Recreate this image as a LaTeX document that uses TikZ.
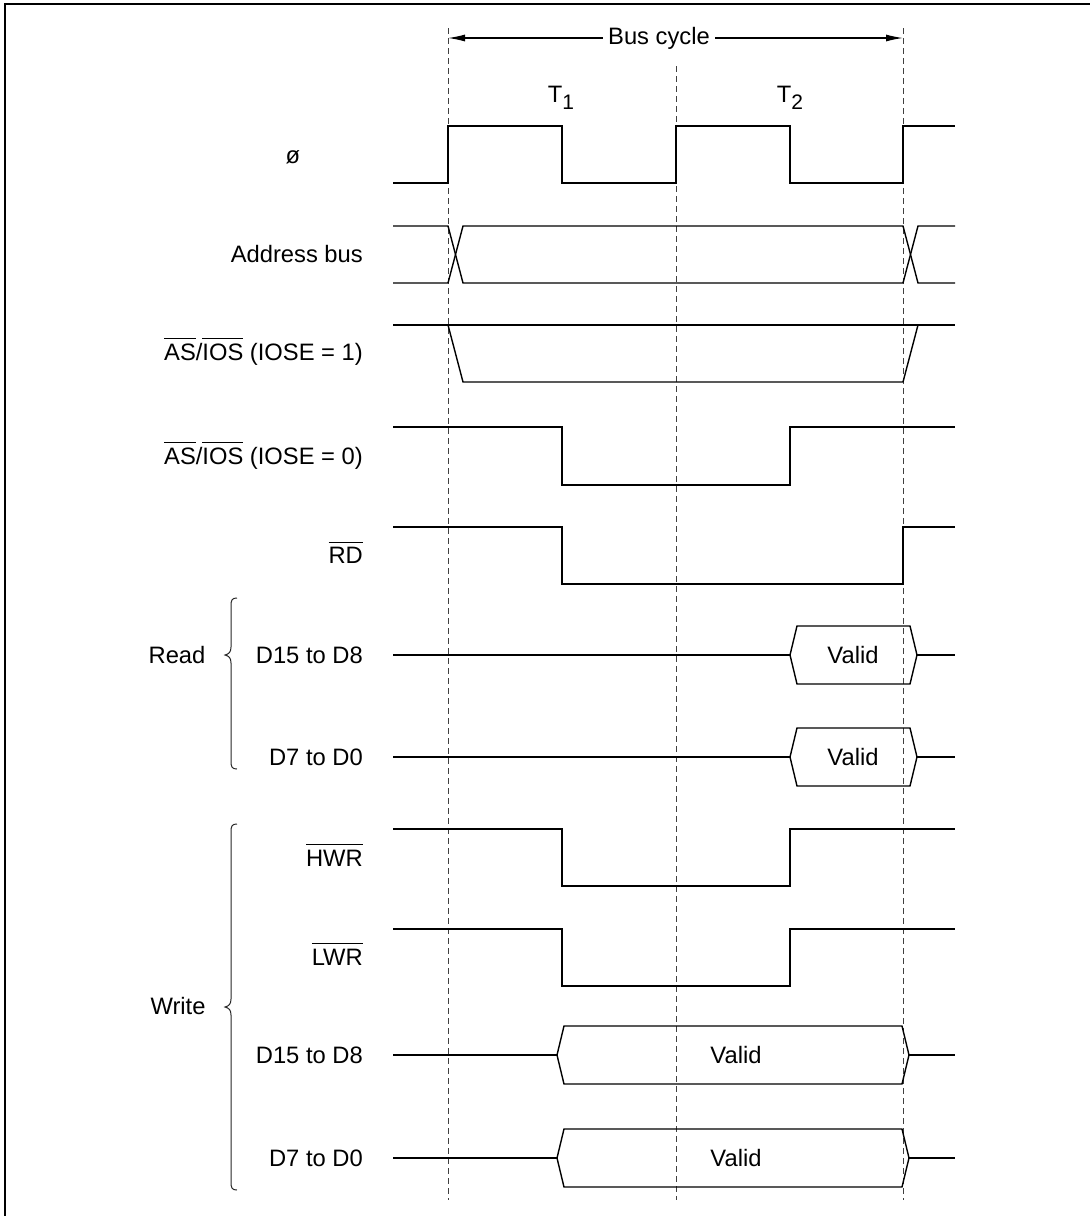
\documentclass[tikz,border=0pt]{standalone}
\usepackage{fontspec}
\setmainfont{Liberation Sans}
\usetikzlibrary{arrows.meta}
\newcommand{\ovl}[1]{\leavevmode\vbox{\hrule height 1.1pt\kern 4.5pt\hbox{#1}}}
\newcommand{\subone}[1]{\raisebox{-7pt}{\fontsize{21}{21}\selectfont #1}}
\begin{document}
\begin{tikzpicture}[x=1pt,y=-1pt,
  font=\fontsize{23.75}{28}\selectfont,
  sig/.style={line width=1.4pt, line join=miter},
  guide/.style={line width=1pt, dash pattern=on 6pt off 4pt, black!75},
  lbl/.style={anchor=base east, inner sep=0pt},
  brc/.style={line width=1pt, black!85},
  txt/.style={inner sep=0pt}]
\useasboundingbox (0,0) rectangle (1090,1216);
% frame
\draw[line width=2pt] (1090,4) -- (5,4) -- (5,1216);
% guides
\coordinate (g1t) at (448,28);  \coordinate (g1b) at (448,1200);
\coordinate (g2t) at (676,66);  \coordinate (g2b) at (676,1200);
\coordinate (g3t) at (903,28);  \coordinate (g3b) at (903,1200);
\draw[guide] (g1t) -- (g1b);
\draw[guide] (g2t) -- (g2b);
\draw[guide] (g3t) -- (g3b);
% bus cycle
\node[inner xsep=5pt, inner ysep=0pt] (bc) at (659,38) {Bus cycle};
\coordinate (bcl) at (448,38); \coordinate (bcr) at (903,38);
\draw[line width=1.2pt, -{Latex[length=17pt,width=7pt]}] (bc.west) -- (bcl);
\draw[line width=1.2pt, -{Latex[length=17pt,width=7pt]}] (bc.east) -- (bcr);
\node[anchor=base, txt] (t1) at (561,102) {T\subone{1}};
\node[anchor=base, txt] (t2) at (790,102) {T\subone{2}};
% labels
\node[txt] (lphi) at (293,157) {ø};
\node[lbl] (laddr) at (363,262.5) {Address bus};
\node[lbl] (las1) at (363,360) {\ovl{AS}/\ovl{IOS} (IOSE = 1)};
\node[lbl] (las0) at (363,464) {\ovl{AS}/\ovl{IOS} (IOSE = 0)};
\node[lbl] (lrd) at (363,563.5) {\ovl{RD}};
\node[lbl] (lrd15) at (363,663.5) {D15 to D8};
\node[lbl] (lrd7) at (363,765.5) {D7 to D0};
\node[lbl] (lhwr) at (363,866) {\ovl{HWR}};
\node[lbl] (llwr) at (363,965) {\ovl{LWR}};
\node[lbl] (lwd15) at (363,1063.5) {D15 to D8};
\node[lbl] (lwd7) at (363,1166) {D7 to D0};
\node[txt] (lread) at (177,655) {Read};
\node[txt] (lwrite) at (178,1006) {Write};
% braces
\draw[brc] (237,598) .. controls (232,598) and (231,600) .. (231,606) -- (231,647)
  .. controls (231,652) and (229,654) .. (225,655) .. controls (229,656) and (231,658) .. (231,663)
  -- (231,761) .. controls (231,767) and (232,769) .. (237,769);
\draw[brc] (237,824) .. controls (232,824) and (231,826) .. (231,832) -- (231,999)
  .. controls (231,1004) and (229,1006) .. (225,1007) .. controls (229,1008) and (231,1010) .. (231,1015)
  -- (231,1182) .. controls (231,1188) and (232,1190) .. (237,1190);
% clock
\draw[sig] (393,183) -- (448,183) -- (448,126) -- (562,126) -- (562,183) -- (676,183)
  -- (676,126) -- (790,126) -- (790,183) -- (903,183) -- (903,126) -- (955,126);
% address bus
\draw[sig] (393,226) -- (448,226) -- (463,283) -- (903,283) -- (918,226) -- (955,226);
\draw[sig] (393,283) -- (448,283) -- (463,226) -- (903,226) -- (918,283) -- (955,283);
% AS IOSE=1
\draw[sig] (393,325) -- (955,325);
\draw[sig] (448,325) -- (463,382) -- (903,382) -- (918,325);
% AS IOSE=0
\draw[sig] (393,427) -- (562,427) -- (562,485) -- (790,485) -- (790,427) -- (955,427);
% RD
\draw[sig] (393,527) -- (562,527) -- (562,584) -- (903,584) -- (903,527) -- (955,527);
% read data
\draw[sig] (393,655) -- (790,655);
\draw[sig] (790,655) -- (797,626) -- (910,626) -- (917,655) -- (910,684) -- (797,684) -- cycle;
\draw[sig] (917,655) -- (955,655);
\node[txt] (rv1) at (853,655) {Valid};
\draw[sig] (393,757) -- (790,757);
\draw[sig] (790,757) -- (797,728) -- (910,728) -- (917,757) -- (910,786) -- (797,786) -- cycle;
\draw[sig] (917,757) -- (955,757);
\node[txt] (rv2) at (853,757) {Valid};
% HWR, LWR
\draw[sig] (393,829) -- (562,829) -- (562,886) -- (790,886) -- (790,829) -- (955,829);
\draw[sig] (393,929) -- (562,929) -- (562,986) -- (790,986) -- (790,929) -- (955,929);
% write data
\draw[sig] (393,1055) -- (557,1055);
\draw[sig] (557,1055) -- (564,1026) -- (902,1026) -- (909,1055) -- (902,1084) -- (564,1084) -- cycle;
\draw[sig] (909,1055) -- (955,1055);
\node[txt] (wv1) at (736,1055) {Valid};
\draw[sig] (393,1158) -- (557,1158);
\draw[sig] (557,1158) -- (564,1129) -- (902,1129) -- (909,1158) -- (902,1187) -- (564,1187) -- cycle;
\draw[sig] (909,1158) -- (955,1158);
\node[txt] (wv2) at (736,1158) {Valid};
\end{tikzpicture}
\end{document}
